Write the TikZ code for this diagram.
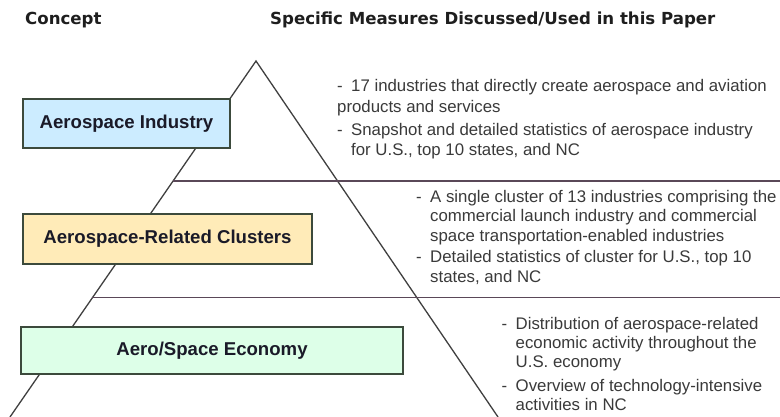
\documentclass[tikz,border=0pt]{standalone}
\usepackage{fontspec}
\setmainfont{Liberation Sans}
\newfontfamily\hdfont{DejaVu Sans}
\definecolor{bodygray}{HTML}{3A3A3A}
\definecolor{headc}{HTML}{1E1E1E}
\definecolor{boxtext}{HTML}{1A1A28}
\definecolor{boxline}{HTML}{3C4A3C}
\definecolor{sidec}{HTML}{404040}
\definecolor{tierc}{HTML}{5A4858}
\definecolor{basec}{HTML}{F2D2A8}
\definecolor{fillA}{HTML}{CCECFF}
\definecolor{fillB}{HTML}{FFEBB8}
\definecolor{fillC}{HTML}{DDFFE8}
\newcommand\bdash{\makebox[14pt][l]{-}}
\begin{document}
\begin{tikzpicture}[x=1pt,y=-1pt,
  body/.style={anchor=base west, inner sep=0pt, text=bodygray, font=\fontsize{16.8}{20}\selectfont},
  head/.style={anchor=base west, inner sep=0pt, text=headc, font=\hdfont\bfseries\fontsize{16.6}{20}\selectfont},
  concept/.style={draw=boxline, line width=1.5pt, inner sep=0pt, text=boxtext, font=\bfseries\fontsize{18.6}{22}\selectfont},
  side/.style={draw=sidec, line width=1.3pt},
  tier/.style={draw=tierc, line width=1.6pt}]
\useasboundingbox (0,0) rectangle (780,417);
\fill[white] (0,0) rectangle (780,417);
% pyramid
\coordinate (apex) at (256,61);
\coordinate (bl) at (10,417);
\coordinate (br) at (498,417);
\coordinate (t1l) at (173,181);
\coordinate (t1r) at (780,181);
\coordinate (t2l) at (92,297.5);
\coordinate (t2r) at (780,297.5);
\draw[basec, line width=1pt, dotted] (bl) -- (br);
\draw[side] (bl) -- (apex) -- (br);
\draw[tier] (t1l) -- (t1r);
\draw[tier] (t2l) -- (t2r);
% concept boxes
\node[concept, fill=fillA, minimum width=207pt, minimum height=49pt] (b1) at (126.5,123.5) {Aerospace Industry};
\node[concept, fill=fillB, minimum width=289pt, minimum height=50pt] (b2) at (167.5,239) {Aerospace-Related Clusters};
\node[concept, fill=fillC, minimum width=382pt, minimum height=47pt] (b3) at (212,350.5) {Aero/Space Economy};
% headers
\node[head] (h1) at (25,25) {Concept};
\node[head] (h2) at (270,25) {Specific Measures Discussed/Used in this Paper};
% block 1
\node[body] (a1) at (337,92) {\bdash17 industries that directly create aerospace and aviation};
\node[body] (a2) at (337,112.5) {products and services};
\node[body] (a3) at (337,135.5) {\bdash Snapshot and detailed statistics of aerospace industry};
\node[body] (a4) at (351,156) {for U.S., top 10 states, and NC};
% block 2
\node[body] (c1) at (416,202.5) {\bdash A single cluster of 13 industries comprising the};
\node[body] (c2) at (430,222) {commercial launch industry and commercial};
\node[body] (c3) at (430,241.5) {space transportation-enabled industries};
\node[body] (c4) at (416,262.5) {\bdash Detailed statistics of cluster for U.S., top 10};
\node[body] (c5) at (430,282) {states, and NC};
% block 3
\node[body] (d1) at (501.5,329) {\bdash Distribution of aerospace-related};
\node[body] (d2) at (515.5,348) {economic activity throughout the};
\node[body] (d3) at (515.5,367) {U.S. economy};
\node[body] (d4) at (501.5,391.5) {\bdash Overview of technology-intensive};
\node[body] (d5) at (515.5,410.5) {activities in NC};
\end{tikzpicture}
\end{document}
